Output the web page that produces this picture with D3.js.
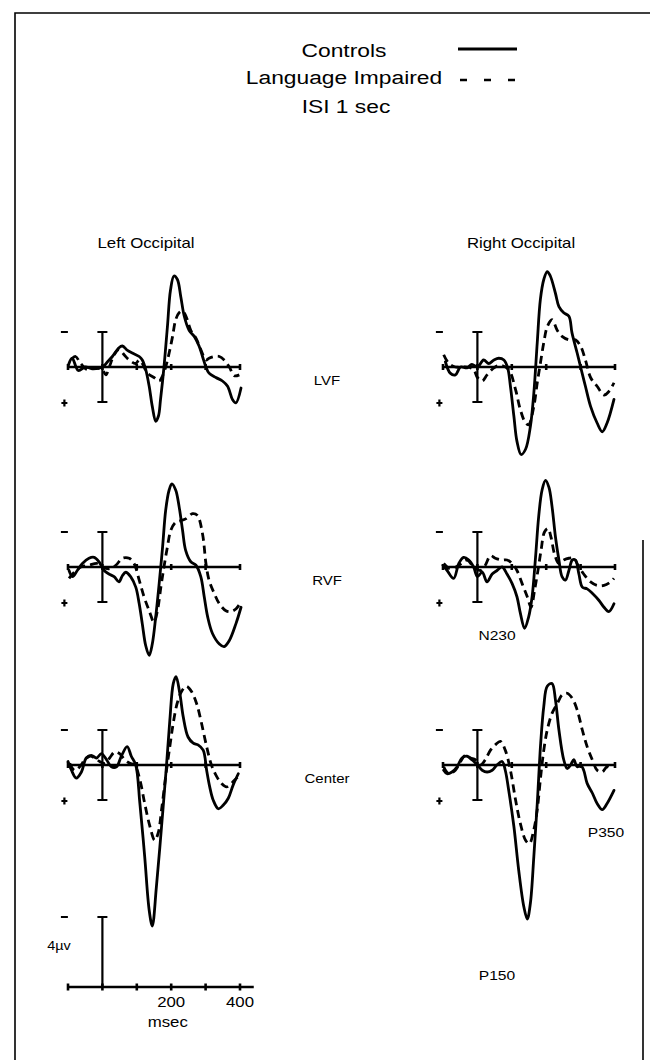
<!DOCTYPE html>
<html>
<head>
<meta charset="utf-8">
<script src="https://cdnjs.cloudflare.com/ajax/libs/d3/7.8.5/d3.min.js"></script>
<style>
  body { margin: 0; background: #fff; }
  text { font-family: "Liberation Sans", Arial, sans-serif; fill: #000; }
  .erp { fill: none; stroke: #000; stroke-width: 2.8; stroke-linejoin: round; stroke-linecap: round; }
  .li { stroke-dasharray: 8 5; stroke-linecap: butt; }
  .ax { stroke: #000; stroke-width: 2.6; }
</style>
</head>
<body>
<script>
// [msec, microvolts] ; positive voltage is plotted downward (negative up)
var lvfLeftCtrl = [[-99,-0.1],[-88,-0.5],[-70,0.2],[-50,0],[-30,0.1],[0,0],[15,-0.3],[29,-0.6],[48,-1.1],[58,-1.2],[73,-0.95],[87,-0.8],[107,-0.6],[116,-0.4],[126,0.15],[136,1.1],[145,2.25],[155,3.1],[163,2.8],[169,1.85],[179,0],[189,-2.3],[198,-4.4],[208,-5.2],[218,-5.0],[228,-4.0],[238,-2.9],[252,-2.1],[267,-1.75],[281,-1.2],[291,-0.6],[301,0],[310,0.35],[330,0.6],[349,0.8],[364,1.1],[378,1.85],[388,2.05],[403,1.2]];
var lvfLeftLI = [[-87,-0.5],[-78,-0.6],[-63,-0.2],[-44,0.15],[-20,0.05],[0,0.15],[10,0.45],[20,0],[34,-0.7],[48,-1.0],[63,-0.7],[78,-0.4],[97,-0.2],[107,-0.4],[116,-0.2],[131,0.35],[150,0.6],[165,0.8],[175,0.5],[184,0],[194,-0.8],[204,-1.75],[213,-2.7],[223,-3.1],[233,-3.2],[243,-2.9],[257,-2.1],[272,-1.65],[286,-1.0],[301,-0.4],[310,-0.5],[325,-0.6],[340,-0.6],[354,-0.4],[369,0],[383,0.5],[398,0.45]];

var lvfRightCtrl = [[-93,-0.3],[-79,0.35],[-64,0.45],[-49,0],[-30,0.05],[-16,-0.15],[0,0],[18,-0.4],[33,-0.2],[48,-0.4],[62,-0.5],[77,-0.4],[88,0.05],[96,1.1],[106,2.8],[115,4.25],[127,5.0],[140,4.7],[154,3.4],[164,1.5],[174,-1.4],[183,-3.85],[193,-5.0],[203,-5.45],[212,-5.2],[227,-4.2],[237,-3.45],[251,-3.1],[266,-2.9],[275,-1.95],[290,-0.8],[300,0],[314,1.1],[329,2.25],[348,3.2],[363,3.7],[377,3.2],[397,1.85]];
var lvfRightLI = [[-98,-0.7],[-83,-0.2],[-64,0],[-30,0],[-11,0.15],[0,0.6],[14,0.8],[28,0.45],[48,0.05],[67,-0.1],[91,0.15],[111,1.3],[125,2.45],[140,3.2],[149,3.3],[164,2.25],[174,0.9],[183,-0.2],[193,-1.4],[203,-2.3],[217,-2.7],[232,-2.1],[246,-1.75],[266,-1.55],[285,-1.55],[300,-1.2],[314,-0.4],[329,0.6],[348,1.1],[368,1.6],[382,1.4],[397,0.9]];

var rvfLeftCtrl = [[-97,0.2],[-87,0.55],[-73,0.2],[-58,-0.2],[-39,-0.5],[-24,-0.55],[-10,-0.3],[5,0.2],[19,0.4],[34,0.55],[48,0.85],[58,0.5],[68,0.3],[82,0.55],[97,1.15],[107,2.1],[116,3.25],[126,4.5],[136,5.05],[145,4.4],[155,2.85],[165,0.95],[175,-1.15],[184,-3.25],[194,-4.4],[202,-4.75],[213,-4.4],[223,-3.45],[233,-2.1],[242,-0.95],[257,-0.3],[272,-0.1],[286,0.55],[296,1.7],[306,2.85],[320,3.8],[340,4.4],[354,4.55],[369,4.2],[388,3.25],[403,2.3]];
var rvfLeftLI = [[-97,0.65],[-82,0.3],[-63,0],[-39,-0.1],[-15,-0.2],[0,0],[19,0.1],[39,-0.1],[58,-0.5],[78,-0.5],[92,-0.2],[107,0.75],[121,1.7],[136,2.5],[150,3.15],[160,2.5],[170,1.15],[179,0],[189,-1.15],[199,-2.1],[213,-2.55],[228,-2.65],[242,-2.75],[262,-3.05],[276,-2.95],[291,-1.9],[301,-0.2],[310,0.75],[325,1.5],[340,2.1],[359,2.5],[373,2.55],[388,2.4],[403,2.0]];

var rvfRightCtrl = [[-100,-0.1],[-88,0.2],[-69,0.65],[-54,-0.2],[-40,-0.55],[-25,-0.4],[-11,0],[0,0.55],[14,0.3],[28,0.85],[43,0.4],[57,0.2],[72,0],[86,0.4],[101,0.95],[115,1.7],[125,2.65],[137,3.5],[149,2.85],[159,1.7],[169,-0.55],[178,-2.85],[188,-4.4],[198,-4.95],[208,-4.55],[217,-3.45],[227,-1.7],[237,-0.4],[246,0.55],[256,0.75],[266,0.2],[276,-0.4],[285,-0.4],[295,0.4],[305,1.15],[319,1.25],[334,1.5],[353,1.9],[368,2.3],[382,2.55],[397,2.1]];
var rvfRightLI = [[-98,-0.2],[-79,0.1],[-54,-0.1],[-30,-0.4],[-11,0],[9,0.2],[23,-0.1],[38,-0.65],[52,-0.5],[72,-0.4],[86,-0.4],[101,-0.2],[115,0.2],[130,0.95],[145,1.7],[156,2.3],[166,1.35],[176,0.2],[185,-0.95],[195,-2.0],[205,-2.2],[214,-1.7],[224,-0.75],[237,-0.2],[251,-0.4],[266,-0.5],[280,-0.5],[295,0],[309,0.4],[329,0.85],[348,1.05],[368,1.05],[387,0.85],[397,0.65]];

var cenLeftCtrl = [[-100,-0.2],[-90,0.3],[-76,0.75],[-61,0.4],[-47,-0.4],[-32,-0.55],[-17,-0.4],[-3,-0.65],[12,-0.3],[26,0.1],[41,0.1],[55,-0.5],[72,-1.05],[84,-0.5],[97,0],[109,2.2],[123,5.25],[136,8.3],[145,9.2],[157,6.95],[172,3.5],[186,0.1],[196,-2.55],[206,-4.65],[214,-5.05],[225,-4.1],[235,-2.75],[249,-1.6],[264,-1.25],[278,-1.15],[293,-0.85],[303,0.3],[312,1.25],[322,2.0],[337,2.5],[351,2.3],[366,1.9],[380,1.15],[395,0.5]];
var cenLeftLI = [[-95,-0.1],[-81,0.3],[-66,0.1],[-51,-0.3],[-37,-0.5],[-22,-0.4],[-8,-0.2],[7,-0.1],[21,-0.4],[36,-0.75],[50,-0.65],[65,-0.3],[80,-0.1],[94,0],[109,0.85],[123,2.2],[138,3.5],[152,4.3],[162,3.9],[172,2.55],[184,0.65],[196,-1.05],[206,-2.4],[217,-3.5],[230,-4.2],[244,-4.5],[259,-4.2],[274,-3.5],[288,-2.4],[303,-1.05],[317,0],[332,0.65],[346,1.05],[361,1.25],[375,1.05],[390,0.75],[400,0.55]];

var cenRightCtrl = [[-98,0.3],[-88,0.5],[-74,0.4],[-59,0.1],[-45,-0.4],[-30,-0.5],[-16,-0.3],[0,0],[14,0.3],[28,0.4],[43,0.3],[57,0],[72,-0.2],[81,0.3],[91,1.45],[106,3.5],[120,6.0],[135,8.1],[145,8.8],[154,7.9],[164,5.25],[174,2.2],[184,-1.25],[193,-3.35],[203,-4.5],[217,-4.65],[227,-3.7],[237,-2.0],[251,-0.3],[261,0.2],[271,0],[280,-0.3],[290,0.1],[300,0],[309,0.3],[319,1.05],[334,1.6],[348,2.2],[363,2.55],[377,2.2],[397,1.45]];
var cenRightLI = [[-98,0.1],[-83,0.5],[-64,0.3],[-49,-0.2],[-35,-0.55],[-20,-0.4],[-6,-0.3],[9,0],[23,-0.3],[38,-0.85],[52,-1.15],[67,-1.35],[81,-0.85],[96,0.3],[111,2.0],[125,3.35],[140,4.3],[151,4.5],[164,3.7],[174,2.55],[184,0.65],[193,-0.85],[203,-2.0],[217,-2.95],[232,-3.5],[246,-4.0],[261,-4.1],[276,-3.8],[290,-3.15],[305,-2.0],[319,-1.05],[334,-0.3],[348,0.3],[363,0.4],[377,0.1],[392,0.3]];

var rowBaselines = [367, 567, 765];
var rowLabels = ["LVF", "RVF", "Center"];
var colTitles = ["Left Occipital", "Right Occipital"];
var timeTicks = [-100, 0, 100, 200, 300, 400];
var calTickLabels = [200, 400];

var panels = [
  {col: 0, row: 0, ctrl: lvfLeftCtrl, li: lvfLeftLI},
  {col: 1, row: 0, ctrl: lvfRightCtrl, li: lvfRightLI},
  {col: 0, row: 1, ctrl: rvfLeftCtrl, li: rvfLeftLI},
  {col: 1, row: 1, ctrl: rvfRightCtrl, li: rvfRightLI},
  {col: 0, row: 2, ctrl: cenLeftCtrl, li: cenLeftLI},
  {col: 1, row: 2, ctrl: cenRightCtrl, li: cenRightLI}
];

var W = 650, H = 1060, pxPerUV = 17.5;
var colRanges = [[68, 240], [443, 615]];

var svg = d3.select("body").append("svg")
  .attr("width", W).attr("height", H);

// frame (scanned page border)
svg.append("path")
  .attr("d", "M15,1060 V13 H650")
  .attr("fill", "none").attr("stroke", "#000").attr("stroke-width", 1.6);
svg.append("line")
  .attr("x1", 643).attr("x2", 643).attr("y1", 540).attr("y2", 1060)
  .attr("stroke", "#000").attr("stroke-width", 1.6);

// text is slightly wider than normal in the scan
function label(str, x, y, size, anchor) {
  return svg.append("text")
    .attr("transform", "translate(" + x + "," + y + ") scale(1.2,1)")
    .attr("text-anchor", anchor || "middle")
    .attr("font-size", size)
    .text(str);
}

// legend
label("Controls", 344, 57, 19);
label("Language Impaired", 344, 84, 19);
label("ISI 1 sec", 346, 113, 19);
svg.append("line").attr("x1", 458).attr("x2", 517).attr("y1", 49).attr("y2", 49)
  .attr("stroke", "#000").attr("stroke-width", 3);
svg.append("line").attr("x1", 460).attr("x2", 517).attr("y1", 80).attr("y2", 80)
  .attr("stroke", "#000").attr("stroke-width", 2.6).attr("stroke-dasharray", "7 17");

colTitles.forEach(function(t, i) { label(t, [146, 521][i], 248, 14); });
rowLabels.forEach(function(t, i) { label(t, 327, rowBaselines[i] + 18, 12.5); });

label("N230", 497, 640, 13);
label("P350", 606, 837, 13);
label("P150", 497, 980, 13);

panels.forEach(function(p) {
  var base = rowBaselines[p.row];
  var x = d3.scaleLinear().domain([-100, 400]).range(colRanges[p.col]);
  var y = d3.scaleLinear().domain([0, 1]).range([base, base + pxPerUV]);
  var g = svg.append("g");

  g.append("line").attr("class", "ax")
    .attr("x1", x(-100)).attr("x2", x(400)).attr("y1", base).attr("y2", base);
  g.selectAll(".tk").data(timeTicks).enter().append("line").attr("class", "ax")
    .attr("x1", function(d) { return x(d); }).attr("x2", function(d) { return x(d); })
    .attr("y1", base - 3).attr("y2", base + 3);

  // +-2 uV calibration bar at stimulus onset
  var x0 = x(0);
  g.append("path").attr("fill", "none").attr("stroke", "#000").attr("stroke-width", 2.2)
    .attr("d", "M" + (x0 - 5) + "," + y(-2) + "H" + (x0 + 5) + "M" + x0 + "," + y(-2) +
      "V" + y(2) + "M" + (x0 - 5) + "," + y(2) + "H" + (x0 + 5));

  // polarity marks
  var xm = x0 - 38;
  g.append("path").attr("fill", "none").attr("stroke", "#000").attr("stroke-width", 2.2)
    .attr("d", "M" + (xm - 3.5) + "," + y(-2) + "H" + (xm + 3.5) +
      "M" + (xm - 3) + "," + (y(2) + 1) + "H" + (xm + 3) +
      "M" + xm + "," + (y(2) - 2.5) + "V" + (y(2) + 4.5));

  var line = d3.line()
    .x(function(d) { return x(d[0]); })
    .y(function(d) { return y(d[1]); })
    .curve(d3.curveCatmullRom.alpha(0.5));

  g.append("path").datum(p.li).attr("class", "erp li").attr("d", line);
  g.append("path").datum(p.ctrl).attr("class", "erp").attr("d", line);
});

// calibration: 4 uV, time axis in msec
(function() {
  var base = 987;
  var x = d3.scaleLinear().domain([-100, 400]).range(colRanges[0]);
  var y = d3.scaleLinear().domain([0, 1]).range([base, base + pxPerUV]);
  var g = svg.append("g");
  g.append("line").attr("class", "ax")
    .attr("x1", x(-100)).attr("x2", x(440)).attr("y1", base).attr("y2", base);
  g.selectAll(".tk").data(timeTicks).enter().append("line").attr("class", "ax")
    .attr("x1", function(d) { return x(d); }).attr("x2", function(d) { return x(d); })
    .attr("y1", base - 3.5).attr("y2", base + 3.5);
  g.append("path").attr("fill", "none").attr("stroke", "#000").attr("stroke-width", 2.2)
    .attr("d", "M" + x(0) + "," + base + "V" + y(-4) + "M" + (x(0) - 5) + "," + y(-4) + "H" + (x(0) + 5));
  g.append("line").attr("stroke", "#000").attr("stroke-width", 2)
    .attr("x1", x(0) - 41.5).attr("x2", x(0) - 34.5).attr("y1", y(-4)).attr("y2", y(-4));
  calTickLabels.forEach(function(t) { label(String(t), x(t), 1007, 14); });
  label("msec", x(190), 1027, 14);
  label("4\u00b5v", 59, 950, 12);
})();
</script>
</body>
</html>
